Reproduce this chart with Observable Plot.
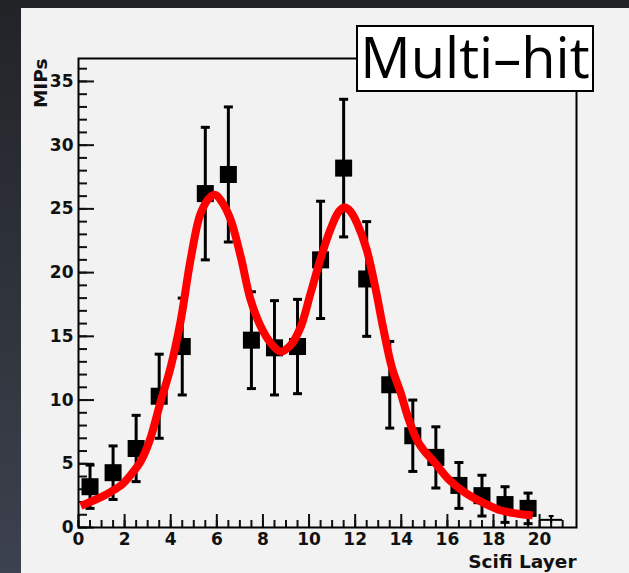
<!DOCTYPE html>
<html><head><meta charset="utf-8">
<script src="https://cdn.jsdelivr.net/npm/d3@7"></script>
<script src="https://cdn.jsdelivr.net/npm/@observablehq/plot@0.6"></script>
<style>
html,body{margin:0;padding:0;width:629px;height:573px;overflow:hidden;background:linear-gradient(to bottom,#212327,#3c424e);}
#panel{position:absolute;left:21px;top:8px;right:0;bottom:0;background:#f2f2f2;}
#chart{position:absolute;left:0;top:0;}
#tag{position:absolute;left:356px;top:25px;width:234px;height:63px;border:2px solid #000;background:#fff;font-family:"Open Sans","Noto Sans",sans-serif;font-size:56px;line-height:59px;text-align:center;color:#000;white-space:nowrap;}
</style></head>
<body><div id="panel"></div><div id="chart"></div><div id="tag">Multi–hit</div>
<script>
// Data points (bin centres, MIPs, errors)
const layers = [0.5,1.5,2.5,3.5,4.5,5.5,6.5,7.5,8.5,9.5,10.5,11.5,12.5,13.5,14.5,15.5,16.5,17.5,18.5,19.5];
const mips   = [3.2,4.3,6.2,10.3,14.2,26.2,27.7,14.7,14.1,14.2,21.0,28.2,19.5,11.2,7.2,5.5,3.3,2.5,1.8,1.5];
const errs   = [1.7,2.1,2.6,3.3,3.8,5.2,5.3,3.8,3.7,3.7,4.6,5.4,4.5,3.4,2.8,2.4,1.8,1.6,1.4,1.2];
// Last (tiny) bin
const tailLayer = [20.5];
const tailMips  = [0.6];
const tailErr   = [0.3];
// Fitted curve
const fitX = [0.1,0.5,1.0,1.4,1.9,2.3,2.7,3.1,3.55,4.0,4.43,4.86,5.29,5.7,5.94,6.2,6.59,7.03,7.46,7.9,8.33,8.76,9.2,9.63,10.07,10.5,10.93,11.3,11.54,11.8,12.1,12.5,12.9,13.2,13.6,13.97,14.3,14.7,15.0,15.4,16.1,16.8,17.6,18.3,19.0,19.7];
const fitY = [1.7,2.0,2.4,2.8,3.4,4.2,5.2,6.9,9.8,12.6,16.2,21.0,24.6,25.9,26.1,25.6,24.2,21.3,17.9,15.8,14.5,13.8,14.3,15.7,18.4,21.1,23.4,24.8,25.1,24.8,23.8,21.8,18.6,15.8,12.5,10.6,8.6,6.8,6.0,5.2,3.7,2.7,1.9,1.35,1.1,0.95];
// Axis ticks
const xMajor = [0,2,4,6,8,10,12,14,16,18,20];
const xMinor = d3.range(0, 21.01, 0.5);
const yMajor = [0,5,10,15,20,25,30,35];
const yMinor = d3.range(0, 36.5, 1);
const xTitle = "Scifi Layer";
const yTitle = "MIPs";

const rows = layers.map((x,i)=>({x, y:mips[i], lo:mips[i]-errs[i], hi:mips[i]+errs[i]}));
const tail = tailLayer.map((x,i)=>({x, x1:x-0.5, x2:x+0.5, y:tailMips[i], lo:tailMips[i]-tailErr[i], hi:tailMips[i]+tailErr[i]}));
const fit = fitX.map((x,i)=>({x, y:fitY[i]}));
const cap = {draw(ctx){ ctx.rect(-4.5,-1.5,9,3); }};
const capSmall = {draw(ctx){ ctx.rect(-2.5,-1,5,2); }};

const chart = Plot.plot({
  width:629, height:573,
  marginLeft:78, marginRight:53, marginTop:58, marginBottom:46,
  style:{background:"transparent", fontFamily:"'DejaVu Sans', sans-serif", fontSize:"17px", fontWeight:"bold", color:"#111"},
  x:{domain:[0,21.6]},
  y:{domain:[0,36.8]},
  marks:[
    Plot.axisY({ticks:yMinor, tickSize:-9, text:null, strokeWidth:2, label:null}),
    Plot.axisY({ticks:yMajor, tickSize:-16, tickPadding:21, strokeWidth:2, label:null, tickFormat:d=>String(d)}),
    Plot.axisX({ticks:xMinor, tickSize:-7, text:null, strokeWidth:2, label:null}),
    Plot.axisX({ticks:xMajor, tickSize:-13, tickPadding:18, strokeWidth:2, label:null, tickFormat:d=>String(d)}),
    Plot.frame({stroke:"#000", strokeWidth:2}),
    Plot.ruleX(rows, {x:"x", y1:"lo", y2:"hi", stroke:"#000", strokeWidth:3}),
    Plot.dot(rows, {x:"x", y:"lo", symbol:cap, fill:"#000", r:3}),
    Plot.dot(rows, {x:"x", y:"hi", symbol:cap, fill:"#000", r:3}),
    Plot.dot(rows, {x:"x", y:"y", symbol:"square", fill:"#000", r:9.6}),
    Plot.ruleY(tail, {x1:"x1", x2:"x2", y:"y", stroke:"#000", strokeWidth:2}),
    Plot.ruleX(tail, {x:"x", y1:"lo", y2:"hi", stroke:"#000", strokeWidth:2}),
    Plot.dot(tail, {x:"x", y:"hi", symbol:capSmall, fill:"#000", r:2}),
    Plot.line(fit, {x:"x", y:"y", stroke:"#ff0000", strokeWidth:8, curve:"catmull-rom", strokeLinecap:"butt"}),
    Plot.text([xTitle], {frameAnchor:"bottom-right", textAnchor:"end", lineAnchor:"middle", dy:35, fontSize:18.5, fontWeight:"bold", fill:"#111"}),
    Plot.text([yTitle], {frameAnchor:"top-left", textAnchor:"end", lineAnchor:"middle", rotate:-90, dx:-37, fontSize:18.5, fontWeight:"bold", fill:"#111"})
  ]
});
document.getElementById("chart").appendChild(chart);
</script>
</body></html>
